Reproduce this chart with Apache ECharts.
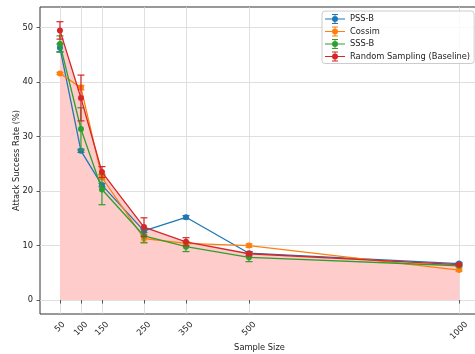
<!DOCTYPE html>
<html>
<head>
<meta charset="utf-8">
<script src="https://cdn.jsdelivr.net/npm/echarts@6/dist/echarts.min.js"></script>
<style>
  html, body { margin: 0; padding: 0; background: #fff; }
  #chart { width: 475px; height: 354px; }
</style>
</head>
<body>
<div id="chart"></div>
<script>
// Attack success rate (%) per sample size, mean and error for each method
const sampleSizes = [50, 100, 150, 250, 350, 500, 1000];
const pssB = [46.3, 27.4, 21.1, 12.7, 15.2, 8.6, 6.7];
const pssBErr = [0.7, 0.3, 0.3, 0.3, 0.3, 0.3, 0.2];
const cossim = [41.6, 39.0, 22.5, 11.3, 10.4, 10.0, 5.5];
const cossimErr = [0.2, 0.4, 0.4, 0.7, 0.3, 0.3, 0.2];
const sssB = [47.0, 31.4, 20.3, 11.8, 9.8, 7.85, 6.3];
const sssBErr = [1.5, 3.9, 2.8, 1.3, 0.9, 0.8, 0.2];
const randomBase = [49.5, 37.1, 23.5, 13.4, 10.7, 8.5, 6.5];
const randomErr = [1.6, 4.2, 1.0, 1.7, 0.75, 0.4, 0.2];
const seriesNames = ['PSS-B', 'Cossim', 'SSS-B', 'Random Sampling (Baseline)'];
const xTicks = [50, 100, 150, 250, 350, 500, 1000];
const yTicks = [0, 10, 20, 30, 40, 50];

const FONT = 'DejaVu Sans';
const FS = 8.3;
const TEXT = '#222';
const colors = ['#1f77b4', '#ff7f0e', '#2ca02c', '#d62728'];
const groups = [
  [pssB, pssBErr],
  [cossim, cossimErr],
  [sssB, sssBErr],
  [randomBase, randomErr]
];

// legend glyph: line, marker and error bar with caps
const errIcon = 'path://M0,4.4H20V5.6H0Z M9.5,0H10.5V10H9.5Z M7,0H13V1H7Z M7,9H13V10H7Z M13,5A3,3 0 1 1 7,5A3,3 0 1 1 13,5Z';

function errorBarSeries(name, color, vals, errs, z) {
  return {
    type: 'custom',
    name: name,
    z: z,
    silent: true,
    itemStyle: { color: color },
    data: sampleSizes.map((x, i) => [x, vals[i], errs[i]]),
    renderItem: function (params, api) {
      const x = api.value(0), y = api.value(1), e = api.value(2);
      const top = api.coord([x, y + e]);
      const bot = api.coord([x, y - e]);
      const cap = 3.5;
      const st = { stroke: color, lineWidth: 1.2 };
      return {
        type: 'group',
        children: [
          { type: 'line', shape: { x1: top[0], y1: top[1], x2: bot[0], y2: bot[1] }, style: st },
          { type: 'line', shape: { x1: top[0] - cap, y1: top[1], x2: top[0] + cap, y2: top[1] }, style: st },
          { type: 'line', shape: { x1: bot[0] - cap, y1: bot[1], x2: bot[0] + cap, y2: bot[1] }, style: st }
        ]
      };
    }
  };
}

const series = [
  {
    // shaded area under the random-sampling baseline
    type: 'line',
    name: 'baseline-fill',
    z: 1,
    silent: true,
    data: sampleSizes.map((x, i) => [x, randomBase[i]]),
    symbol: 'none',
    itemStyle: { color: '#ffcccc' },
    lineStyle: { width: 0, opacity: 0 },
    areaStyle: { color: '#ffcccc', opacity: 1, origin: 0 }
  }
];
groups.forEach(([vals, errs], i) => {
  series.push(errorBarSeries(seriesNames[i], colors[i], vals, errs, 2 + i * 2));
  series.push({
    type: 'line',
    name: seriesNames[i],
    z: 3 + i * 2,
    data: sampleSizes.map((x, k) => [x, vals[k]]),
    symbol: 'circle',
    symbolSize: 6,
    showAllSymbol: true,
    itemStyle: { color: colors[i] },
    lineStyle: { color: colors[i], width: 1.3 }
  });
});

// rotated tick labels: pad longer labels so each box hangs below the axis like the shorter ones
const richX = {};
[1, 2, 3, 4].forEach(n => {
  const q = (n - 2) * 2.64;
  richX['l' + n] = {
    fontFamily: FONT, fontSize: FS, color: TEXT,
    padding: [Math.max(q, 0), Math.max(q, 0), 0, 0]
  };
});

const chart = echarts.init(document.getElementById('chart'), null, { renderer: 'canvas' });
chart.setOption({
  animation: false,
  color: colors,
  backgroundColor: '#fff',
  textStyle: { fontFamily: FONT },
  grid: {
    left: 40, top: 7, width: 439, height: 307,
    containLabel: false,
    outerBoundsMode: 'none',
    show: true, borderColor: '#333', borderWidth: 1, backgroundColor: 'transparent'
  },
  legend: {
    data: seriesNames.map(n => ({ name: n, icon: errIcon })),
    orient: 'vertical',
    left: 322, top: 11,
    itemWidth: 20, itemHeight: 10, itemGap: 2.5,
    padding: [3, 4, 2, 3],
    backgroundColor: 'rgba(255,255,255,0.8)',
    borderColor: '#cccccc', borderWidth: 1, borderRadius: 3,
    textStyle: { fontFamily: FONT, fontSize: FS, color: TEXT, lineHeight: 10 }
  },
  xAxis: {
    type: 'value',
    min: 2.5, max: 1047.5,
    name: 'Sample Size',
    nameLocation: 'middle',
    nameGap: 29.5,
    nameMoveOverlap: false,
    nameTextStyle: { fontFamily: FONT, fontSize: FS, color: TEXT },
    axisLine: { show: false },
    axisTick: { show: true, customValues: xTicks, length: 3.5, lineStyle: { color: '#333', width: 0.8 } },
    axisLabel: {
      customValues: xTicks,
      rotate: 45,
      align: 'center',
      verticalAlign: 'middle',
      margin: 13,
      formatter: v => '{l' + String(v).length + '|' + v + '}',
      rich: richX
    },
    splitLine: { show: true, lineStyle: { color: '#d8d8d8', width: 0.8 } }
  },
  yAxis: {
    type: 'value',
    min: -2.56, max: 53.8,
    name: 'Attack Success Rate (%)',
    nameLocation: 'middle',
    nameGap: 19.5,
    nameMoveOverlap: false,
    nameTextStyle: { fontFamily: FONT, fontSize: FS, color: TEXT },
    axisLine: { show: false },
    axisTick: { show: true, customValues: yTicks, length: 3.5, lineStyle: { color: '#333', width: 0.8 } },
    axisLabel: { customValues: yTicks, fontFamily: FONT, fontSize: FS, color: TEXT, margin: 7 },
    splitLine: { show: true, lineStyle: { color: '#d8d8d8', width: 0.8 } }
  },
  series: series
});
</script>
</body>
</html>
